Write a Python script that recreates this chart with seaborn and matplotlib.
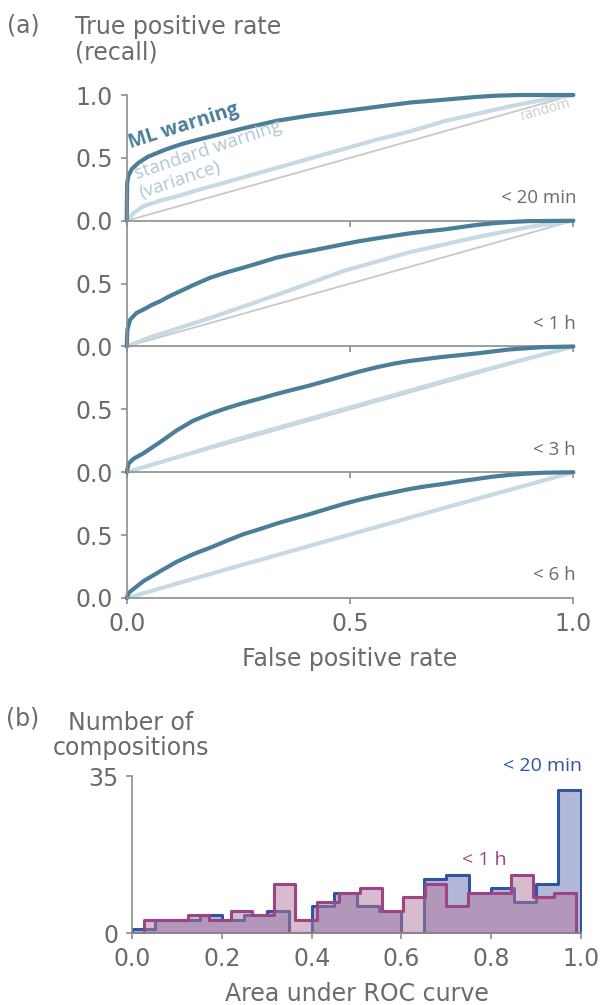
import numpy as np
import pandas as pd
import matplotlib
matplotlib.use('Agg')
import matplotlib.pyplot as plt
import seaborn as sns

sns.set_theme(style='white')
plt.rcParams['font.family'] = ['DejaVu Sans']

# ---- (a) ROC curves ----
windows = ['< 20 min', '< 1 h', '< 3 h', '< 6 h']

ml_fpr_20min = [0, 0.001, 0.0037, 0.011, 0.026, 0.048, 0.086, 0.123, 0.16, 0.2, 0.261, 0.336, 0.41, 0.485, 0.56, 0.634, 0.709, 0.784, 0.83, 0.88, 1.0]
ml_tpr_20min = [0, 0.30, 0.355, 0.41, 0.46, 0.51, 0.565, 0.61, 0.645, 0.68, 0.735, 0.795, 0.837, 0.871, 0.906, 0.94, 0.962, 0.985, 0.995, 1.0, 1.0]
std_fpr_20min = [0, 0.015, 0.037, 0.075, 0.112, 0.16, 0.216, 0.275, 0.336, 0.41, 0.485, 0.56, 0.634, 0.709, 0.784, 0.858, 0.93, 1.0]
std_tpr_20min = [0, 0.06, 0.115, 0.16, 0.194, 0.245, 0.30, 0.36, 0.42, 0.495, 0.57, 0.645, 0.71, 0.79, 0.85, 0.91, 0.96, 1.0]

ml_fpr_1h = [0, 0.0015, 0.0075, 0.022, 0.037, 0.056, 0.075, 0.093, 0.112, 0.15, 0.187, 0.224, 0.261, 0.3, 0.336, 0.373, 0.41, 0.45, 0.485, 0.52, 0.56, 0.6, 0.634, 0.67, 0.709, 0.75, 0.784, 0.82, 0.858, 0.9, 1.0]
ml_tpr_1h = [0, 0.133, 0.213, 0.267, 0.293, 0.33, 0.36, 0.395, 0.427, 0.49, 0.547, 0.59, 0.627, 0.668, 0.707, 0.735, 0.76, 0.788, 0.813, 0.837, 0.86, 0.882, 0.90, 0.915, 0.93, 0.95, 0.967, 0.98, 0.99, 0.997, 1.0]
std_fpr_1h = [0, 0.05, 0.187, 0.336, 0.485, 0.634, 0.784, 0.9, 1.0]
std_tpr_1h = [0, 0.07, 0.227, 0.41, 0.60, 0.75, 0.87, 0.95, 1.0]

ml_fpr_3h = [0, 0.004, 0.015, 0.037, 0.075, 0.112, 0.149, 0.187, 0.224, 0.261, 0.3, 0.336, 0.373, 0.41, 0.45, 0.485, 0.52, 0.56, 0.6, 0.634, 0.709, 0.784, 0.858, 0.933, 1.0]
ml_tpr_3h = [0, 0.067, 0.107, 0.15, 0.24, 0.333, 0.41, 0.465, 0.51, 0.55, 0.587, 0.623, 0.657, 0.69, 0.73, 0.765, 0.80, 0.835, 0.865, 0.885, 0.918, 0.945, 0.977, 0.995, 1.0]
std_fpr_3h = [0, 0.25, 0.5, 0.75, 1.0]
std_tpr_3h = [0, 0.265, 0.515, 0.765, 1.0]

ml_fpr_6h = [0, 0.004, 0.037, 0.075, 0.112, 0.15, 0.187, 0.224, 0.261, 0.3, 0.336, 0.373, 0.41, 0.45, 0.485, 0.52, 0.56, 0.6, 0.634, 0.67, 0.709, 0.75, 0.784, 0.82, 0.858, 0.9, 0.933, 1.0]
ml_tpr_6h = [0, 0.04, 0.133, 0.213, 0.288, 0.35, 0.40, 0.455, 0.507, 0.55, 0.592, 0.63, 0.667, 0.71, 0.747, 0.78, 0.813, 0.842, 0.867, 0.888, 0.907, 0.93, 0.947, 0.965, 0.979, 0.99, 0.996, 1.0]
std_fpr_6h = [0, 0.25, 0.5, 0.75, 1.0]
std_tpr_6h = [0, 0.255, 0.505, 0.755, 1.0]

random_fpr = [0, 1]
random_tpr = [0, 1]

ml_curves = [(ml_fpr_20min, ml_tpr_20min), (ml_fpr_1h, ml_tpr_1h),
             (ml_fpr_3h, ml_tpr_3h), (ml_fpr_6h, ml_tpr_6h)]
std_curves = [(std_fpr_20min, std_tpr_20min), (std_fpr_1h, std_tpr_1h),
              (std_fpr_3h, std_tpr_3h), (std_fpr_6h, std_tpr_6h)]

# ---- (b) histogram of AUC per composition ----
auc_counts_20min = [1, 3, 3, 4, 3, 4, 5, 0, 6, 9, 6, 5, 0, 12, 13, 9, 10, 7, 11, 32]
auc_range_20min = (0.0, 1.0)
auc_counts_1h = [3, 3, 4, 3, 5, 4, 11, 3, 7, 9, 10, 5, 8, 11, 6, 9, 9, 13, 8, 9]
auc_range_1h = (0.027, 0.989)

GREY = '#6b6b6b'
SPINE = '#8e8e8e'
ML_COL = '#4a7e99'
STD_COL = '#c7d9e3'
RAND_COL = '#c8c8c8'
BLUE = '#2e55a0'
PINK = '#9c4585'
ANNOT_FONT = ['Open Sans', 'DejaVu Sans']

fig = plt.figure(figsize=(6.02, 10.05), dpi=100)

# panel geometry (figure fractions)
left, width = 0.2105, 0.7419
top, panel_h = 0.90547, 0.12512

axes = []
for i, win in enumerate(windows):
    ax = fig.add_axes([left, top - (i + 1) * panel_h, width, panel_h])
    axes.append(ax)

    sns.lineplot(x=random_fpr, y=random_tpr, color=RAND_COL, linewidth=1.3,
                 sort=False, estimator=None, ax=ax, clip_on=False)
    fx, fy = std_curves[i]
    sns.lineplot(x=fx, y=fy, color=STD_COL, linewidth=3.0, sort=False,
                 estimator=None, ax=ax, clip_on=False, solid_joinstyle='round')
    mx, my = ml_curves[i]
    sns.lineplot(x=mx, y=my, color=ML_COL, linewidth=3.0, sort=False,
                 estimator=None, ax=ax, clip_on=False, solid_joinstyle='round')

    ax.set_xlim(0, 1)
    ax.set_ylim(0, 1)
    ax.set_xticks([0, 0.5, 1.0])
    if i == 0:
        ax.set_yticks([0, 0.5, 1.0])
        ax.set_yticklabels(['0.0', '0.5', '1.0'])
    else:
        ax.set_yticks([0, 0.5])
        ax.set_yticklabels(['0.0', '0.5'])
    for s in ['top', 'right']:
        ax.spines[s].set_visible(False)
    for s in ['left', 'bottom']:
        ax.spines[s].set_color(SPINE)
        ax.spines[s].set_linewidth(1.2)
    ax.tick_params(direction='out', length=4, width=1.2, color=SPINE,
                   labelsize=17, labelcolor=GREY, pad=6,
                   bottom=True, left=True)
    ax.patch.set_alpha(0)
    if i < 3:
        ax.tick_params(labelbottom=False)
    else:
        ax.set_xticklabels(['0.0', '0.5', '1.0'])
        ax.set_xlabel('False positive rate', fontsize=17, color=GREY, labelpad=8)
    ax.set_ylabel('')

    ax.text(1.006, 0.18, win, ha='right', va='center', fontsize=13.5,
            color=GREY, family=ANNOT_FONT)

ax0 = axes[0]
ax0.text(0.009, 0.58, 'ML warning', rotation=17.5, rotation_mode='anchor',
         ha='left', va='baseline', fontsize=14, fontweight='bold',
         color=ML_COL, family=ANNOT_FONT)
ax0.text(0.0224, 0.328, 'standard warning', rotation=18.5,
         rotation_mode='anchor', ha='left', va='baseline', fontsize=13.5,
         color='#b0c7d4', family=ANNOT_FONT)
ax0.text(0.0336, 0.18, '(variance)', rotation=18.5,
         rotation_mode='anchor', ha='left', va='baseline', fontsize=13.5,
         color='#b0c7d4', family=ANNOT_FONT)
ax0.text(0.939, 0.88, 'random', rotation=15.5, rotation_mode='anchor',
         ha='center', va='center', fontsize=10, color='#cbcbcb',
         family=ANNOT_FONT)

fig.text(23 / 602, 1 - 25 / 1005, '(a)', ha='center', va='center',
         fontsize=17, color=GREY)
fig.text(75 / 602, 1 - 40 / 1005, 'True positive rate\n(recall)', ha='left',
         va='center', fontsize=17, color=GREY, linespacing=1.1)

# ---- (b) ----
axh = fig.add_axes([0.2198, 0.0716, 0.745, 0.1562])

edges_20min = np.linspace(auc_range_20min[0], auc_range_20min[1], len(auc_counts_20min) + 1)
edges_1h = np.linspace(auc_range_1h[0], auc_range_1h[1], len(auc_counts_1h) + 1)
hist_df = pd.concat([
    pd.DataFrame({'auc': (edges_20min[:-1] + edges_20min[1:]) / 2,
                  'count': auc_counts_20min, 'window': '< 20 min'}),
    pd.DataFrame({'auc': (edges_1h[:-1] + edges_1h[1:]) / 2,
                  'count': auc_counts_1h, 'window': '< 1 h'}),
])

sns.histplot(data=hist_df[hist_df['window'] == '< 20 min'], x='auc', weights='count',
             bins=edges_20min.tolist(), element='step', fill=True,
             facecolor=(0.40, 0.45, 0.70, 0.5), edgecolor=BLUE, linewidth=2.2,
             ax=axh)
sns.histplot(data=hist_df[hist_df['window'] == '< 1 h'], x='auc', weights='count',
             bins=edges_1h.tolist(), element='step', fill=True,
             facecolor=(0.71, 0.47, 0.62, 0.5), edgecolor=PINK, linewidth=2.2,
             ax=axh)

axh.set_xlim(0, 1)
axh.set_ylim(0, 35)
axh.set_yticks([0, 35])
axh.set_xticks([0, 0.2, 0.4, 0.6, 0.8, 1.0])
axh.set_xticklabels(['0.0', '0.2', '0.4', '0.6', '0.8', '1.0'])
for s in ['top', 'right']:
    axh.spines[s].set_visible(False)
for s in ['left', 'bottom']:
    axh.spines[s].set_color(SPINE)
    axh.spines[s].set_linewidth(1.2)
    axh.spines[s].set_zorder(5)
axh.tick_params(direction='out', length=4, width=1.2, color=SPINE,
                labelsize=17, labelcolor=GREY, pad=6, bottom=True, left=True)
axh.set_ylabel('')
axh.set_xlabel('Area under ROC curve', fontsize=17, color=GREY, labelpad=8)

axh.text(1.002, 37.2, '< 20 min', ha='right', va='center', fontsize=14,
         color=BLUE, family=ANNOT_FONT, clip_on=False)
axh.text(0.785, 16.3, '< 1 h', ha='center', va='center', fontsize=14,
         color=PINK, family=ANNOT_FONT)

fig.text(23 / 602, 1 - 718 / 1005, '(b)', ha='center', va='center',
         fontsize=17, color=GREY)
fig.text(131 / 602, 1 - 735.5 / 1005, 'Number of\ncompositions', ha='center',
         va='center', fontsize=17, color=GREY, linespacing=1.05)

fig.savefig('out.png', dpi=100)
